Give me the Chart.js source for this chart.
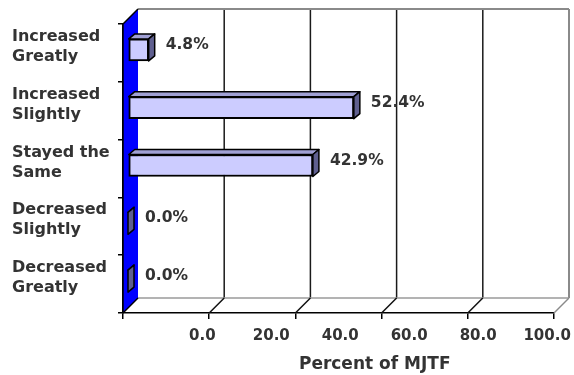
<!DOCTYPE html>
<html>
<head>
<meta charset="utf-8">
<script src="https://cdn.jsdelivr.net/npm/chart.js@4.4.1/dist/chart.umd.min.js"></script>
<style>
  html, body { margin: 0; padding: 0; background: #ffffff; }
  canvas { display: block; }
</style>
</head>
<body>
<canvas id="c" width="574" height="375"></canvas>
<script>
// ---- data ----
const categories = [
  ['Increased', 'Greatly'],
  ['Increased', 'Slightly'],
  ['Stayed the', 'Same'],
  ['Decreased', 'Slightly'],
  ['Decreased', 'Greatly']
];
const values = [4.8, 52.4, 42.9, 0.0, 0.0];
const gridValues = [0, 20, 40, 60, 80, 100];
const tickLabelValues = [0, 20, 40, 60, 80, 100];
const axisTitle = 'Percent of MJTF';

// ---- style constants ----
const DX = 15, DY = 15;      // wall depth
const BX = 5, BY = -3;       // bar plane offset
const FD = 6, FDY = 5;       // bar depth
const TEXT = '#333333';
const FONT = 'DejaVu Sans';

const threeD = {
  id: 'threeD',
  beforeDatasetsDraw(chart) {
    const ctx = chart.ctx;
    const xs = chart.scales.x;
    const a = chart.chartArea;
    const L = a.left, R = a.right, T = a.top, B = a.bottom;
    ctx.save();
    ctx.lineCap = 'butt';
    // back wall gridlines
    gridValues.forEach(v => {
      if (v === 0) return;
      const px = xs.getPixelForValue(v) + DX;
      ctx.strokeStyle = v === 100 ? '#8a8a8a' : '#1a1a1a';
      ctx.lineWidth = v === 100 ? 2 : 1.5;
      ctx.beginPath();
      ctx.moveTo(px, T - DY);
      ctx.lineTo(px, B - DY);
      ctx.stroke();
    });
    // top edge of back wall
    ctx.strokeStyle = '#8a8a8a';
    ctx.lineWidth = 2;
    ctx.beginPath();
    ctx.moveTo(L + DX, T - DY);
    ctx.lineTo(R + DX, T - DY);
    ctx.stroke();
    // floor back line
    ctx.strokeStyle = '#9a9a9a';
    ctx.lineWidth = 1.5;
    ctx.beginPath();
    ctx.moveTo(L + DX, B - DY);
    ctx.lineTo(R + DX, B - DY);
    ctx.stroke();
    // floor diagonals
    gridValues.forEach(v => {
      if (v === 0) return;
      const px = xs.getPixelForValue(v);
      ctx.strokeStyle = v === 100 ? '#8a8a8a' : '#111111';
      ctx.lineWidth = 1.5;
      ctx.beginPath();
      ctx.moveTo(px, B);
      ctx.lineTo(px + DX, B - DY);
      ctx.stroke();
    });
    // blue side wall
    ctx.fillStyle = '#0000ff';
    ctx.beginPath();
    ctx.moveTo(L, T);
    ctx.lineTo(L + DX, T - DY);
    ctx.lineTo(L + DX, B - DY);
    ctx.lineTo(L, B);
    ctx.closePath();
    ctx.fill();
    ctx.strokeStyle = '#000';
    ctx.lineWidth = 1.5;
    ctx.beginPath();
    ctx.moveTo(L, B);
    ctx.lineTo(L, T);
    ctx.lineTo(L + DX, T - DY);
    ctx.stroke();
    ctx.beginPath();
    ctx.moveTo(L, B);
    ctx.lineTo(L + DX, B - DY);
    ctx.stroke();
    ctx.restore();
    // bars are drawn on a plane set slightly back
    ctx.save();
    ctx.translate(BX, BY);
  },
  afterDatasetsDraw(chart) {
    const ctx = chart.ctx;
    const meta = chart.getDatasetMeta(0);
    ctx.lineWidth = 1.5;
    ctx.strokeStyle = '#000';
    ctx.lineJoin = 'round';
    meta.data.forEach(bar => {
      const p = bar.getProps(['x', 'y', 'base', 'height'], true);
      const top = p.y - p.height / 2, bot = p.y + p.height / 2;
      const x0 = Math.min(p.base, p.x), x1 = Math.max(p.base, p.x);
      // top face
      ctx.fillStyle = '#a0a0d4';
      ctx.beginPath();
      ctx.moveTo(x0, top);
      ctx.lineTo(x0 + FD, top - FDY);
      ctx.lineTo(x1 + FD, top - FDY);
      ctx.lineTo(x1, top);
      ctx.closePath();
      ctx.fill();
      ctx.stroke();
      // side face
      ctx.fillStyle = '#5f5f8f';
      ctx.beginPath();
      ctx.moveTo(x1, top);
      ctx.lineTo(x1 + FD, top - FDY);
      ctx.lineTo(x1 + FD, bot - FDY);
      ctx.lineTo(x1, bot);
      ctx.closePath();
      ctx.fill();
      ctx.stroke();
    });
    ctx.restore();
    // value labels
    ctx.save();
    ctx.fillStyle = TEXT;
    ctx.font = 'bold 15.5px "' + FONT + '"';
    ctx.textAlign = 'left';
    ctx.textBaseline = 'middle';
    meta.data.forEach((bar, i) => {
      const p = bar.getProps(['x', 'y'], true);
      ctx.fillText(values[i].toFixed(1) + '%', p.x + BX + 17, p.y + BY - 5);
    });
    // axis title centered on the label axis
    const x2 = chart.scales.x2;
    ctx.font = 'bold 17px "' + FONT + '"';
    ctx.textAlign = 'center';
    ctx.fillText(axisTitle, x2.getPixelForValue(50), x2.bottom - 10);
    ctx.restore();
  }
};

new Chart(document.getElementById('c'), {
  type: 'bar',
  data: {
    labels: categories,
    datasets: [{
      data: values,
      backgroundColor: '#ccccff',
      borderColor: '#000000',
      borderWidth: 2,
      borderSkipped: false,
      barThickness: 22
    }]
  },
  options: {
    indexAxis: 'y',
    responsive: false,
    animation: false,
    devicePixelRatio: 1,
    layout: { padding: { left: 12, top: 24, right: 20, bottom: 0 } },
    plugins: { legend: { display: false }, tooltip: { enabled: false } },
    scales: {
      x: {
        type: 'linear',
        position: 'bottom',
        weight: 0,
        min: 0,
        max: 100,
        afterBuildTicks: s => { s.ticks = gridValues.map(v => ({ value: v })); },
        afterFit: s => { s.height = 6; s.paddingLeft = 0; s.paddingRight = 0; },
        ticks: { display: false },
        grid: { drawOnChartArea: false, drawTicks: true, tickLength: 6, color: '#000', lineWidth: 1.5 },
        border: { display: true, color: '#000', width: 1.5 }
      },
      x2: {
        type: 'linear',
        position: 'bottom',
        weight: 1,
        min: -23,
        max: 102,
        afterBuildTicks: s => { s.ticks = tickLabelValues.map(v => ({ value: v })); },
        afterFit: s => { s.height = 56; s.paddingLeft = 0; s.paddingRight = 0; },
        ticks: {
          autoSkip: false,
          maxRotation: 0,
          padding: 8,
          color: TEXT,
          font: { family: FONT, size: 15, weight: 'bold' },
          callback: v => Number(v).toFixed(1)
        },
        grid: { display: false, drawTicks: false },
        border: { display: false }
      },
      y: {
        type: 'category',
        offset: true,
        afterFit: s => { s.width = 111; },
        ticks: {
          crossAlign: 'far',
          labelOffset: -6,
          color: TEXT,
          font: { family: FONT, size: 16, weight: 'bold', lineHeight: 1.25 }
        },
        grid: { offset: true, drawOnChartArea: false, drawTicks: true, tickLength: 5, color: '#000', lineWidth: 1.5 },
        border: { display: true, color: '#000', width: 1.5 }
      }
    }
  },
  plugins: [threeD]
});
</script>
</body>
</html>
